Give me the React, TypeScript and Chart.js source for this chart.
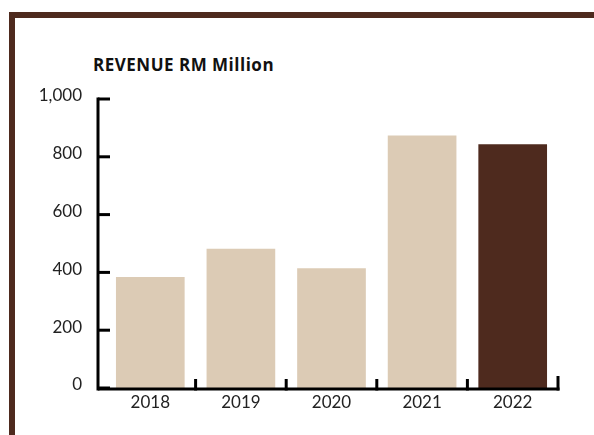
import React, { useEffect, useRef } from "react";
import { Chart, registerables } from "chart.js";

Chart.register(...registerables);

const categories = ["2018", "2019", "2020", "2021", "2022"];
const revenue = [384, 482, 414, 874, 843];
const barColors = ["#dccbb5", "#dccbb5", "#dccbb5", "#dccbb5", "#4e2a1e"];
const yTickValues = [0, 200, 400, 600, 800, 1000];
const titleText = "REVENUE RM Million";

const axisPlugin = {
  id: "customAxes",
  afterDatasetsDraw(chart: any) {
    const { ctx, chartArea, scales } = chart;
    const y = scales.y;
    const x = scales.x;
    ctx.save();
    ctx.strokeStyle = "#000";
    ctx.lineWidth = 3;
    ctx.lineCap = "butt";
    const ax = chartArea.left - 7;
    const bottom = y.getPixelForValue(0) + 1;
    // y axis line
    ctx.beginPath();
    ctx.moveTo(ax, y.getPixelForValue(1000) - 1.5);
    ctx.lineTo(ax, bottom + 1.5);
    ctx.stroke();
    // y ticks inward
    y.ticks.forEach((t: any) => {
      const py = y.getPixelForValue(t.value);
      ctx.beginPath();
      ctx.moveTo(ax, py);
      ctx.lineTo(ax + 12, py);
      ctx.stroke();
    });
    // x axis line
    const n = categories.length;
    ctx.beginPath();
    ctx.moveTo(ax, bottom);
    ctx.lineTo(chartArea.right + 1.5, bottom);
    ctx.stroke();
    // x ticks upward at category boundaries
    for (let i = 1; i <= n; i++) {
      const px =
        i < n
          ? (x.getPixelForValue(i - 1) + x.getPixelForValue(i)) / 2
          : chartArea.right;
      ctx.beginPath();
      ctx.moveTo(px, bottom + 1.5);
      ctx.lineTo(px, bottom - (i === n ? 13 : 10));
      ctx.stroke();
    }
    ctx.restore();
  },
};

export default function App() {
  const ref = useRef<HTMLCanvasElement | null>(null);
  useEffect(() => {
    if (!ref.current) return;
    const chart = new Chart(ref.current, {
      type: "bar",
      data: {
        labels: categories,
        datasets: [
          {
            data: revenue,
            backgroundColor: barColors,
            borderWidth: 0,
            barPercentage: 0.758,
            categoryPercentage: 1,
          },
        ],
      },
      options: {
        animation: false,
        responsive: false,
        maintainAspectRatio: false,
        layout: { padding: { top: 99, right: 36, left: 0, bottom: 0 } },
        plugins: { legend: { display: false }, tooltip: { enabled: false }, title: { display: false } },
        scales: {
          x: {
            grid: { display: false, drawTicks: false },
            border: { display: false },
            ticks: {
              color: "#222",
              font: { family: "Lato", size: 17 },
              padding: 4,
            },
            afterFit: (s: any) => {
              s.height = 47;
            },
          },
          y: {
            min: 0,
            max: 1000,
            grid: { display: false, drawTicks: false },
            border: { display: false },
            afterBuildTicks: (s: any) => {
              s.ticks = yTickValues.map((v) => ({ value: v }));
            },
            ticks: {
              color: "#222",
              font: { family: "Lato", size: 17 },
              padding: 23,
              labelOffset: -3,
              callback: (v: any) => Number(v).toLocaleString("en-US"),
            },
            afterFit: (s: any) => {
              s.width = 105;
            },
          },
        },
      },
      plugins: [axisPlugin],
    });
    return () => chart.destroy();
  }, []);

  return (
    <div style={{ position: "fixed", left: 0, top: 0, width: 594, height: 435, background: "#fff", overflow: "hidden" }}>
      <div
        style={{
          position: "absolute",
          left: 9,
          top: 12,
          width: 600,
          height: 440,
          borderTop: "6px solid #4e2a1e",
          borderLeft: "6px solid #4e2a1e",
          boxSizing: "border-box",
        }}
      />
      <div
        style={{
          position: "absolute",
          left: 93,
          top: 53,
          fontFamily: "'Open Sans', sans-serif",
          fontWeight: 700,
          fontSize: 17,
          color: "#111",
          whiteSpace: "nowrap",
          letterSpacing: 0.5,
        }}
      >
        {titleText}
      </div>
      <canvas ref={ref} width={594} height={435} style={{ position: "absolute", left: 0, top: 0 }} />
    </div>
  );
}
